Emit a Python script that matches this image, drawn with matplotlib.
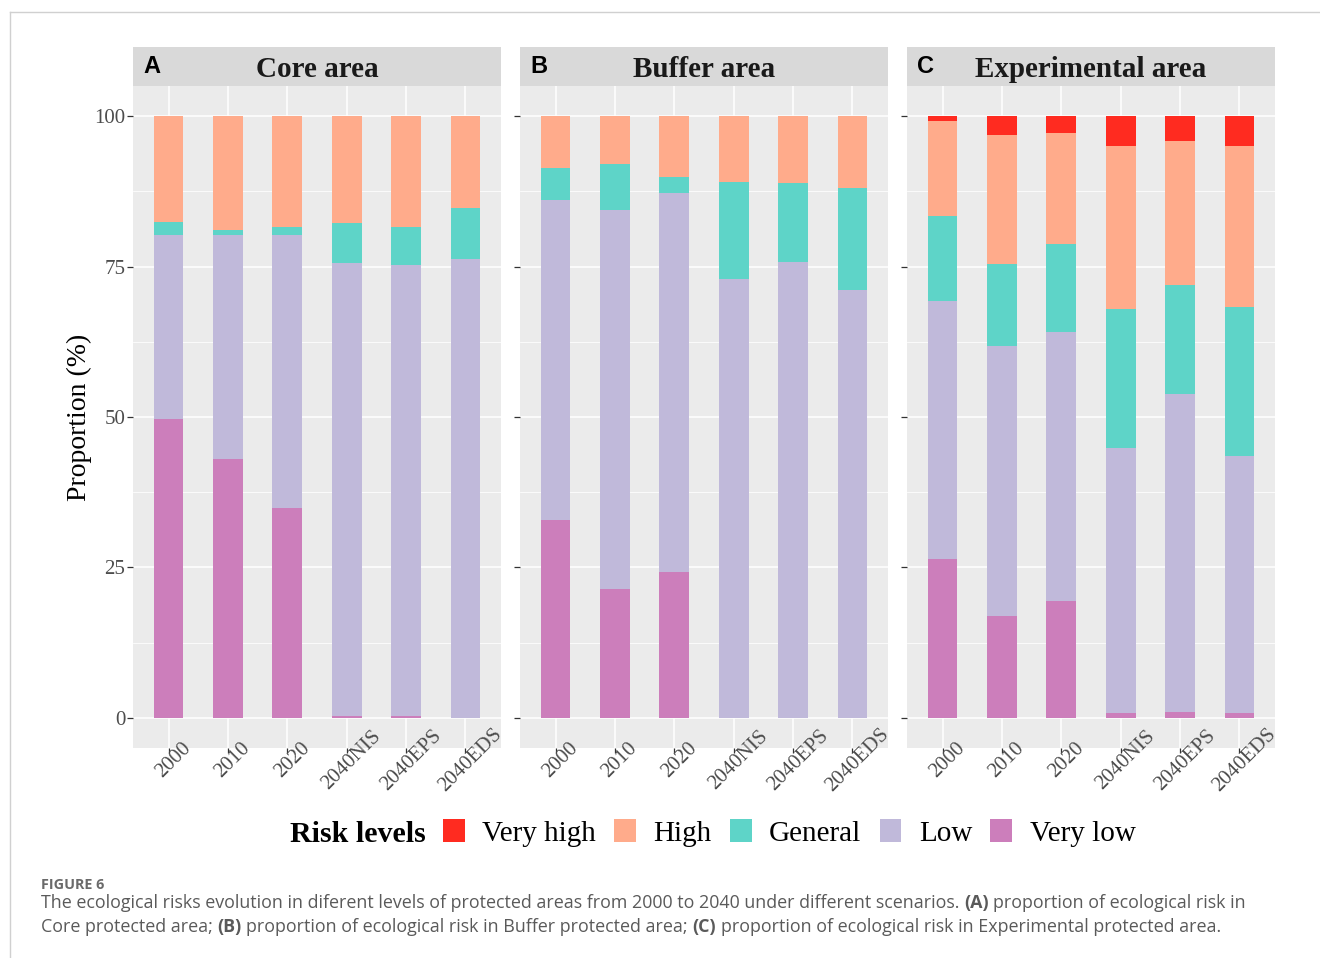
import matplotlib
matplotlib.use("Agg")
import matplotlib.pyplot as plt
import numpy as np
from matplotlib.transforms import ScaledTranslation
from matplotlib.lines import Line2D
from matplotlib.patches import Patch

W, H = 1320, 958

# ---------------- data ----------------
categories = ["2000", "2010", "2020", "2040NIS", "2040EPS", "2040EDS"]
levels = ["Very high", "High", "General", "Low", "Very low"]
level_colors = ["#FF2B20", "#FFAB8B", "#5ED4C8", "#C0B9DA", "#CC7EBB"]

panel_titles = ["Core area", "Buffer area", "Experimental area"]
panel_letters = ["A", "B", "C"]

# segment proportions (%) per panel
core_very_low = [49.6, 43.1, 34.9, 0.3, 0.3, 0.0]
core_low = [30.7, 37.1, 45.4, 75.3, 74.9, 76.2]
core_general = [2.1, 0.9, 1.2, 6.6, 6.4, 8.5]
core_high = [17.6, 18.9, 18.5, 17.8, 18.4, 15.3]
core_very_high = [0.0, 0.0, 0.0, 0.0, 0.0, 0.0]

buffer_very_low = [32.9, 21.5, 24.3, 0.0, 0.0, 0.0]
buffer_low = [53.2, 62.9, 62.9, 73.0, 75.8, 71.1]
buffer_general = [5.3, 7.7, 2.7, 16.1, 13.0, 16.9]
buffer_high = [8.6, 7.9, 10.1, 10.9, 11.2, 12.0]
buffer_very_high = [0.0, 0.0, 0.0, 0.0, 0.0, 0.0]

exp_very_low = [26.4, 16.9, 19.5, 0.8, 1.0, 0.8]
exp_low = [42.9, 44.9, 44.6, 44.1, 52.8, 42.7]
exp_general = [14.1, 13.7, 14.6, 23.0, 18.2, 24.8]
exp_high = [15.8, 21.4, 18.5, 27.1, 23.8, 26.7]
exp_very_high = [0.8, 3.1, 2.8, 5.0, 4.2, 5.0]

yticks = [0, 25, 50, 75, 100]

panels = [
    [core_very_low, core_low, core_general, core_high, core_very_high],
    [buffer_very_low, buffer_low, buffer_general, buffer_high, buffer_very_high],
    [exp_very_low, exp_low, exp_general, exp_high, exp_very_high],
]
stack_colors = level_colors[::-1]  # bottom -> top

# ---------------- figure ----------------
fig = plt.figure(figsize=(W / 100, H / 100), dpi=100)
fig.patch.set_facecolor("white")

SERIF = "Liberation Serif"
SANS = "Liberation Sans"

def fx(px):
    return px / W

def fy(py):
    return 1 - py / H

panel_lefts = [133, 520, 907]
panel_w = 368
panel_top, panel_bottom = 86, 748
strip_top = 47

x = np.arange(len(categories))
for i, (left, segs) in enumerate(zip(panel_lefts, panels)):
    ax = fig.add_axes([fx(left), fy(panel_bottom), panel_w / W, (panel_bottom - panel_top) / H])
    ax.set_facecolor("#EBEBEB")
    bottom = np.zeros(len(categories))
    for vals, col in zip(segs, stack_colors):
        v = np.array(vals)
        ax.bar(x, v, bottom=bottom, width=0.5, color=col, linewidth=0, zorder=3)
        bottom += v
    ax.set_xlim(-0.6, len(categories) - 0.4)
    ax.set_ylim(-5, 105)
    ax.set_yticks(yticks)
    ax.set_yticks([12.5, 37.5, 62.5, 87.5], minor=True)
    ax.set_xticks(x)
    ax.grid(which="major", color="white", linewidth=1.1, zorder=0)
    ax.grid(which="minor", axis="y", color="white", linewidth=0.55, zorder=0)
    ax.set_axisbelow(True)
    for s in ax.spines.values():
        s.set_visible(False)
    ax.tick_params(axis="y", which="major", length=4, width=0.9, color="#333333", pad=1.5,
                   labelsize=15, labelcolor="#4D4D4D")
    ax.tick_params(axis="y", which="minor", length=0)
    ax.tick_params(axis="x", length=3.6, width=0.9, color="#333333", pad=4.3,
                   labelsize=15, labelcolor="#4D4D4D")
    if i == 0:
        ax.set_yticklabels([str(t) for t in yticks], family=SERIF)
        ax.set_ylabel("Proportion (%)", family=SERIF, fontsize=20, labelpad=1.5)
    else:
        ax.set_yticklabels([])
    ax.set_xticklabels(categories, family=SERIF, rotation=45, ha="center", va="center",
                       rotation_mode="anchor")
    off = ScaledTranslation(5 / 100, -1 / 100, fig.dpi_scale_trans)
    for lab in ax.get_xticklabels():
        lab.set_transform(lab.get_transform() + off)

    # strip
    sax = fig.add_axes([fx(left), fy(panel_top), panel_w / W, (panel_top - strip_top) / H])
    sax.set_facecolor("#D9D9D9")
    sax.set_xticks([])
    sax.set_yticks([])
    for s in sax.spines.values():
        s.set_visible(False)
    sax.text(0.5, 0.42, panel_titles[i], transform=sax.transAxes, ha="center", va="center",
             family=SERIF, fontweight="bold", fontsize=21, color="#1A1A1A")
    sax.text(10 / panel_w, 0.5, panel_letters[i], transform=sax.transAxes, ha="left", va="center",
             family=SANS, fontweight="bold", fontsize=17, color="black")

# ---------------- legend ----------------
handles = [Patch(facecolor=c, edgecolor="none") for c in level_colors]
leg = fig.legend(handles, levels, loc="center left", bbox_to_anchor=(fx(443), fy(833)),
                 ncol=5, frameon=False, prop={"family": SERIF, "size": 21},
                 handlelength=0.75, handleheight=0.82, handletextpad=0.6,
                 columnspacing=0.62, borderpad=0, borderaxespad=0)
fig.text(fx(426), fy(835), "Risk levels", ha="right", va="center", family=SERIF,
         fontweight="bold", fontsize=21.5)

# ---------------- caption ----------------
renderer = fig.canvas.get_renderer()
CAP_FONT = "Open Sans"
CAP_COLOR = "#5A5A5A"

def text_w(s, size, weight):
    t = fig.text(0, 0, s, fontsize=size, fontweight=weight, family=CAP_FONT)
    w = t.get_window_extent(renderer).width
    t.remove()
    return w

def runs_width(runs, size):
    sp = text_w("a a", size, "normal") - text_w("aa", size, "normal")
    total = 0.0
    for s, weight in runs:
        n_sp = len(s) - len(s.strip(" "))
        total += text_w(s.strip(" "), size, weight) + n_sp * sp
    return total

def draw_runs(x0, ybase, runs, size):
    xp = x0
    sp = text_w("a a", size, "normal") - text_w("aa", size, "normal")
    for s, weight in runs:
        lead = len(s) - len(s.lstrip(" "))
        trail = len(s) - len(s.rstrip(" "))
        core = s.strip(" ")
        xp += lead * sp
        t = fig.text(fx(xp), fy(ybase), core, fontsize=size, fontweight=weight,
                     family=CAP_FONT, color=CAP_COLOR, va="baseline", ha="left")
        xp += t.get_window_extent(renderer).width + trail * sp
    return xp

line1 = [("The ecological risks evolution in diferent levels of protected areas from 2000 to 2040 under different scenarios. ", "normal"),
         ("(A)", "bold"), (" proportion of ecological risk in", "normal")]
line2 = [("Core protected area; ", "normal"), ("(B)", "bold"),
         (" proportion of ecological risk in Buffer protected area; ", "normal"), ("(C)", "bold"),
         (" proportion of ecological risk in Experimental protected area.", "normal")]

target = 1250 - 41
cap_size = 12.0
for _ in range(4):
    cap_size *= target / runs_width(line1, cap_size)

fig.text(fx(41), fy(889), "FIGURE 6", family=CAP_FONT, fontweight="bold", fontsize=cap_size * 0.8,
         color="#6A6A6A", va="baseline", ha="left")
draw_runs(41, 908, line1, cap_size)
draw_runs(41, 932, line2, cap_size)

# frame
fig.add_artist(Line2D([fx(10), 1], [fy(12), fy(12)], color="#D0D0D0", linewidth=1))
fig.add_artist(Line2D([fx(10), fx(10)], [fy(12), 0], color="#D0D0D0", linewidth=1))

fig.savefig("out.png", dpi=100)
